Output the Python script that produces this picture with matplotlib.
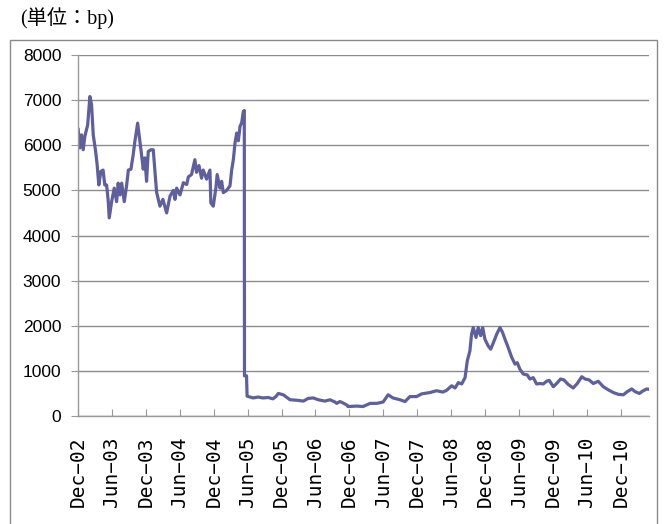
import matplotlib
matplotlib.use("Agg")
import matplotlib.pyplot as plt
import matplotlib.dates as mdates
import pandas as pd
from matplotlib.patches import Rectangle

# Spread series (bp), observation dates and values
dates = [
    "2002-12-02", "2002-12-11", "2002-12-20", "2002-12-29", "2003-01-07", "2003-01-22",
    "2003-02-03", "2003-02-12", "2003-02-21", "2003-03-06", "2003-03-14", "2003-03-23",
    "2003-04-03", "2003-04-15", "2003-04-24", "2003-05-04", "2003-05-13", "2003-05-18",
    "2003-05-31", "2003-06-14", "2003-06-27", "2003-07-05", "2003-07-15", "2003-07-24",
    "2003-08-07", "2003-08-20", "2003-08-29", "2003-09-12", "2003-09-24", "2003-10-03",
    "2003-10-18", "2003-10-30", "2003-11-08", "2003-11-17", "2003-11-26", "2003-12-05",
    "2003-12-14", "2003-12-28", "2004-01-10", "2004-01-19", "2004-01-28", "2004-02-15",
    "2004-03-02", "2004-03-22", "2004-04-09", "2004-04-27", "2004-05-06", "2004-05-15",
    "2004-06-02", "2004-06-20", "2004-07-08", "2004-07-17", "2004-08-03", "2004-08-21",
    "2004-08-30", "2004-09-12", "2004-09-26", "2004-10-05", "2004-10-23", "2004-11-10",
    "2004-11-15", "2004-11-28", "2004-12-12", "2004-12-19", "2005-01-03", "2005-01-12",
    "2005-01-21", "2005-02-08", "2005-02-26", "2005-03-07", "2005-03-16", "2005-03-25",
    "2005-04-03", "2005-04-12", "2005-04-21", "2005-04-30", "2005-05-09", "2005-05-14",
    "2005-05-15", "2005-05-26", "2005-05-29", "2005-06-30", "2005-07-27", "2005-08-22",
    "2005-09-20", "2005-10-15", "2005-10-31", "2005-11-13", "2005-12-10", "2006-01-15",
    "2006-02-20", "2006-03-28", "2006-04-23", "2006-05-20", "2006-06-16", "2006-07-22",
    "2006-08-18", "2006-09-14", "2006-09-23", "2006-10-11", "2006-10-27", "2006-11-18",
    "2006-11-23", "2007-01-09", "2007-02-12", "2007-03-22", "2007-04-27", "2007-05-31",
    "2007-06-27", "2007-07-23", "2007-08-30", "2007-09-26", "2007-10-22", "2007-11-27",
    "2007-12-24", "2008-02-07", "2008-03-14", "2008-04-17", "2008-05-07", "2008-06-03",
    "2008-06-21", "2008-07-09", "2008-07-27", "2008-08-14", "2008-08-26", "2008-09-09",
    "2008-09-18", "2008-09-27", "2008-10-12", "2008-10-24", "2008-11-06", "2008-11-17",
    "2008-11-29", "2008-12-17", "2008-12-30", "2009-01-13", "2009-01-31", "2009-02-18",
    "2009-03-04", "2009-03-17", "2009-04-03", "2009-04-22", "2009-05-10", "2009-05-22",
    "2009-06-05", "2009-06-23", "2009-07-15", "2009-07-29", "2009-08-16", "2009-09-03",
    "2009-09-21", "2009-10-09", "2009-10-27", "2009-11-10", "2009-12-02", "2009-12-20",
    "2010-01-10", "2010-01-28", "2010-02-20", "2010-03-19", "2010-04-10", "2010-05-04",
    "2010-05-22", "2010-06-13", "2010-07-05", "2010-08-01", "2010-08-28", "2010-09-24",
    "2010-10-21", "2010-11-17", "2010-12-14", "2011-01-04", "2011-01-28", "2011-02-15",
    "2011-03-10", "2011-03-31", "2011-04-19", "2011-05-01",
]
spread_bp = [
    6350, 5940, 6230, 5900, 6200, 6450,
    7080, 6900, 6230, 5860, 5570, 5120,
    5420, 5450, 5120, 5120, 4750, 4390,
    4750, 5050, 4750, 5160, 4900, 5160,
    4750, 5120, 5450, 5470, 5790, 6080,
    6490, 6100, 5790, 5470, 5720, 5200,
    5860, 5900, 5900, 5420, 4960, 4650,
    4800, 4500, 4870, 5000, 4800, 5050,
    4900, 5170, 5130, 5300, 5350, 5680,
    5400, 5550, 5270, 5450, 5250, 5450,
    4720, 4650, 5050, 5350, 5050, 5200,
    4950, 5000, 5100, 5450, 5680, 6050,
    6270, 6100, 6420, 6500, 6750, 6770,
    890, 890, 440, 400, 420, 400,
    410, 380, 430, 500, 470, 360,
    350, 330, 390, 400, 360, 330,
    360, 310, 280, 320, 290, 240,
    210, 220, 210, 280, 280, 310,
    470, 400, 360, 320, 430, 430,
    490, 520, 560, 530, 570, 670,
    620, 740, 710, 850, 1220, 1440,
    1810, 1960, 1740, 1960, 1780, 1960,
    1700, 1550, 1480, 1620, 1810, 1960,
    1850, 1700, 1520, 1300, 1150, 1180,
    1040, 930, 910, 820, 850, 710,
    720, 710, 770, 790, 650, 720,
    820, 800, 700, 620, 720, 870,
    820, 800, 720, 770, 650, 580,
    520, 480, 470, 540, 600, 540,
    500, 560, 600, 590,
]
y_ticks = [0, 1000, 2000, 3000, 4000, 5000, 6000, 7000, 8000]
x_start, x_end = "2002-12-01", "2011-05-01"
unit_label = "(単位：bp)"

W, H = 666, 524
fig = plt.figure(figsize=(W / 100, H / 100), dpi=100)

# chart-area border (bottom edge runs past the canvas)
fig.patches.append(Rectangle((10 / W, -10 / H), (657 - 10) / W, (H - 40 + 10) / H,
                             transform=fig.transFigure, fill=False,
                             edgecolor="#8a8a8a", linewidth=1.0))

ax = fig.add_axes([78 / W, 1 - 416 / H, (649 - 78) / W, (416 - 55) / H])

x = pd.to_datetime(dates)
ax.plot(x, spread_bp, color="#5f5f9e", linewidth=2.3, solid_joinstyle="round")

ax.set_xlim(pd.Timestamp(x_start), pd.Timestamp(x_end))
ax.set_ylim(y_ticks[0], y_ticks[-1])
ax.set_yticks(y_ticks)
ax.yaxis.grid(True, color="#8c8c8c", linewidth=1.0)
ax.set_axisbelow(True)

for side in ("top", "right"):
    ax.spines[side].set_visible(False)
for side in ("left", "bottom"):
    ax.spines[side].set_color("#9a9a9a")
    ax.spines[side].set_linewidth(1.0)

ax.xaxis.set_major_locator(mdates.MonthLocator(bymonth=[6, 12], bymonthday=1))
ax.xaxis.set_major_formatter(mdates.DateFormatter("%b\u2212%y"))
ax.tick_params(axis="x", direction="in", length=5, color="#9a9a9a", pad=15)
ax.tick_params(axis="y", direction="out", length=5, color="#9a9a9a", pad=7)

for lab in ax.get_xticklabels():
    lab.set_rotation(90)
    lab.set_family("DejaVu Sans Mono")
    lab.set_fontsize(14)
    lab.set_ha("center")
    lab.set_va("top")
for lab in ax.get_yticklabels():
    lab.set_family("Liberation Sans")
    lab.set_fontsize(12.5)

fig.text(20 / W, 1 - 18 / H, unit_label, family=["Liberation Serif", "Noto Sans CJK JP"],
         fontsize=14.5, ha="left", va="center")

fig.savefig("out.png", dpi=100)
